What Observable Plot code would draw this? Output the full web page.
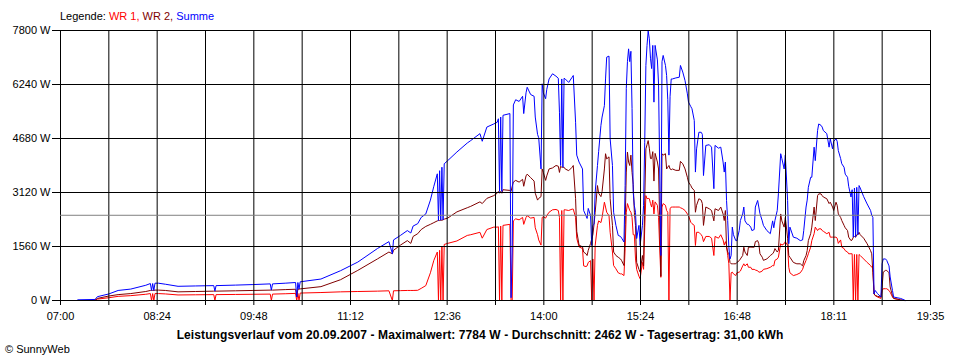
<!DOCTYPE html>
<html>
<head>
<meta charset="utf-8">
<script src="https://cdn.jsdelivr.net/npm/d3@7"></script>
<script src="https://cdn.jsdelivr.net/npm/@observablehq/plot@0.6"></script>
<style>
  body { margin: 0; background: #fff; font-family: "Liberation Sans", Arial, sans-serif; }
  #wrap { position: relative; width: 960px; height: 360px; overflow: hidden; }
  #chart { position: absolute; left: 0; top: 0; }
  .t { position: absolute; font-size: 11px; line-height: 11px; white-space: nowrap; color: #000; }
</style>
</head>
<body>
<div id="wrap">
  <div id="chart"></div>
  <div id="legend" class="t" style="left:60px; top:11px;"></div>
  <div id="caption" class="t" style="left:0; width:960px; text-align:center; top:329px; font-size:12px; line-height:12px; letter-spacing:0.1px; font-weight:bold;"></div>
  <div id="credit" class="t" style="left:5px; top:344px;"></div>
</div>
<script>
// ---------------- data ----------------
const seriesNames = ["WR 1", "WR 2", "Summe"];
const xTickLabels = ["07:00", "08:24", "09:48", "11:12", "12:36", "14:00", "15:24", "16:48", "18:11", "19:35"];
const yTicks = [0, 1560, 3120, 4680, 6240, 7800];
const reportDate = "20.09.2007";
const maxValue = 7784;
const averageValue = 2462;
const dailyYield = "31,00";
const creditText = "© SunnyWeb";

const times = [
"07:15","07:30","07:32","07:42","07:50","08:01","08:14","08:18","08:19","08:20","08:21","08:22","08:25","08:31","08:42","08:57",
"09:13","09:14","09:15","09:32","09:47","10:02","10:03","10:04","10:15","10:24","10:25","10:26","10:27","10:28","10:46",
"11:03","11:18","11:35","11:45","11:48","11:49","11:55","12:01","12:04","12:06","12:10","12:13","12:17","12:21","12:24","12:27",
"12:28","12:29","12:30","12:31","12:32","12:33","12:36","12:44","12:53","12:56","13:04","13:06","13:10","13:16","13:19","13:20",
"13:21","13:22","13:23","13:24","13:30","13:31","13:32","13:33","13:35","13:38","13:41","13:42","13:44","13:45","13:48","13:51",
"13:52","13:54","13:55","13:57","13:58","13:59","14:01","14:02","14:04","14:07","14:10","14:12","14:13","14:14","14:15","14:16",
"14:17","14:18","14:21","14:24","14:25","14:27","14:28","14:30","14:33","14:34","14:36","14:37","14:38","14:40","14:41","14:42",
"14:43","14:44","14:46","14:47","14:49","14:50","14:52","14:53","14:54","14:56","14:57","14:59","15:00","15:02","15:04","15:06",
"15:07","15:09","15:10","15:11","15:12","15:13","15:14","15:15","15:16","15:17","15:18","15:19","15:20","15:22","15:23","15:25",
"15:26","15:27","15:28","15:29","15:30","15:31","15:32","15:33","15:34","15:35","15:36","15:38","15:39","15:41","15:42","15:43",
"15:45","15:46","15:47","15:48","15:49","15:50","15:51","15:54","15:57","15:58","16:00","16:02","16:04","16:05","16:07","16:08",
"16:10","16:11","16:12","16:14","16:16","16:17","16:18","16:20","16:23","16:25","16:27","16:28","16:31","16:33","16:35","16:36",
"16:37","16:38","16:39","16:40","16:41","16:42","16:43","16:44","16:46","16:47","16:49","16:50","16:52","16:53","16:54","16:56",
"16:57","16:59","17:00","17:02","17:03","17:05","17:06","17:07","17:09","17:10","17:13","17:16","17:18","17:19","17:20","17:22",
"17:23","17:25","17:26","17:28","17:29","17:31","17:32","17:33","17:36","17:39","17:42","17:44","17:45","17:47","17:48","17:49",
"17:51","17:52","17:54","17:55","17:57","17:58","18:00","18:01","18:02","18:05","18:07","18:08","18:10","18:11","18:13","18:14",
"18:15","18:17","18:18","18:20","18:21","18:23","18:24","18:26","18:27","18:28","18:29","18:30","18:31","18:32","18:33","18:34",
"18:37","18:40","18:43","18:44","18:45","18:46","18:47","18:49","18:52","18:53","18:54","18:56","18:57","18:59","19:00","19:02",
"19:03","19:06","19:09","19:12","19:13"
];

// WR 1 (W)
const wr1 = [
null,10,40,80,120,140,180,200,0,200,0,200,200,190,160,165,
170,0,170,175,180,185,0,185,195,205,0,205,0,215,230,
250,260,270,280,0,280,285,290,290,290,295,350,430,800,1160,1400,
0,1450,0,1550,0,1620,1650,1720,1880,1900,1970,1800,2050,2120,2120,2130,
0,2150,0,2170,2200,0,0,2300,2360,2330,2400,2200,2400,2450,2380,2400,
2100,1900,1750,1600,2400,2420,2380,2450,2550,2620,2630,2600,2400,0,2600,0,
2620,2620,2600,2640,2640,2400,1800,1550,1500,1000,980,1000,1100,1150,0,1200,
0,1590,2170,2300,2250,2400,2840,2700,2550,2450,1970,1400,1010,915,800,770,
770,720,1500,2550,2800,2700,2600,2550,2400,1900,1900,1200,900,700,630,1100,
900,2100,3030,2940,2950,2940,2800,2700,2900,2500,2850,2750,2400,670,2700,2800,
2750,2600,2550,0,2650,2700,2700,2700,2700,2680,2650,2600,2500,2450,2260,2220,
2170,1590,1970,1970,1900,1850,1700,1850,1850,1800,1300,1850,1800,1900,1750,1600,
1700,1600,1300,1060,0,800,820,770,720,800,820,850,1000,1060,1000,1060,
960,960,900,900,880,860,820,820,850,900,920,960,1010,1000,1160,1200,
1250,1640,1600,1640,1700,1590,960,800,720,750,800,900,1000,1160,1250,1350,
1540,1730,1930,2120,2020,2070,2070,2020,2000,1930,1970,1830,1830,1830,1830,1800,
1650,1750,1540,1500,1440,1400,1350,1350,1350,0,1330,0,1330,0,1330,1300,
1200,1100,1010,960,950,190,140,100,60,290,340,340,340,290,240,100,
60,40,10,0,null
];

// WR 2 (W)
const wr2 = [
null,10,60,130,170,200,260,290,290,290,290,300,300,290,250,260,
270,270,270,280,290,300,300,300,315,325,100,325,330,335,400,
600,870,1200,1400,1350,1450,1600,1730,1650,1850,1930,2050,2140,2200,2250,2300,
2310,2310,2320,2320,2330,2350,2380,2560,2680,2720,2850,2800,2950,3030,3100,3150,
3100,3150,3100,3200,3180,3150,3300,3420,3470,3420,3500,3300,3600,3650,3550,3450,
3100,2900,2950,3000,3800,3700,3470,3600,3800,3830,3900,3880,3700,3880,3850,3850,
3850,3800,3750,3850,3900,2940,2000,1600,1550,1400,1350,1300,1450,1650,1780,1900,
2200,2550,3320,3100,3000,3150,3800,4240,4090,4150,2940,2170,1400,1300,1250,1200,
1150,1010,2200,3710,4290,4000,3900,4200,3700,3350,2550,2170,1100,900,820,1300,
1000,2900,4380,4500,4620,4400,4100,4100,4300,3450,4250,4000,3800,700,4240,4200,
4240,3800,3850,3900,3800,3780,3800,3760,3760,4020,3950,3800,3560,3420,3320,3250,
3180,2550,2750,2940,2900,2800,2170,2700,2650,2600,2300,2650,2600,2700,2500,2310,
2600,1540,1400,1350,1100,1060,1060,1060,1060,1100,1150,1200,1300,1540,1400,1300,
1540,1540,1540,1540,1700,1730,1640,1350,1250,1160,1200,1300,1350,1400,1500,1400,
1450,2500,2300,2120,2400,1800,1300,1250,1100,1060,1060,1000,1150,1300,1440,1730,
1930,2120,2700,2310,3030,3080,3080,3030,2990,2940,2800,2840,2700,2600,2840,2750,
2500,2400,2310,2170,2100,2020,1830,1730,1750,1830,1850,1830,1900,1900,1970,1900,
1800,1640,1440,1350,800,190,150,120,100,390,820,870,870,800,390,140,
60,40,20,0,null
];

// Summe (W)
const summe = [
20,30,110,190,290,330,440,490,290,490,290,500,500,470,410,420,
430,270,430,445,460,480,300,480,500,520,100,520,330,540,620,
860,1110,1500,1700,1350,1750,1880,2020,1950,2150,2220,2400,2500,2900,3300,3660,
2310,3750,2320,3850,2330,3950,4040,4290,4550,4620,4820,4600,5010,5100,5150,5250,
3150,5300,3150,5350,5400,80,1400,5650,5800,5750,5900,5400,6000,6160,5950,5900,
5300,4800,4700,3800,6260,6000,5830,6100,6400,6550,6480,6420,5440,3900,6400,3850,
6420,6400,6300,6450,6500,5150,4200,4000,3800,2600,2450,2370,2660,2450,1590,2170,
2200,3130,3900,4300,5060,5300,5630,6400,7030,7060,4670,3900,2550,2170,1880,1850,
1800,1690,3320,6130,6900,7270,6900,7200,5550,3130,2740,2550,1790,2170,1590,2170,
2740,4570,6790,7370,7784,7560,7000,6700,7370,5730,7370,6950,6250,1300,6900,7080,
6790,6500,5800,4200,5900,6400,6400,6430,6450,6790,6600,6350,5970,5730,5600,5540,
5200,3710,4380,4860,4860,4800,3610,4480,4500,4430,3230,4480,4400,4430,4000,3710,
4000,2890,2310,1540,1200,1300,2120,1900,1730,1730,2020,2310,2500,2700,2300,2200,
2200,2120,2020,2050,2700,2890,2700,2510,2300,2170,2020,1930,2300,2100,2310,2600,
3080,4240,4100,3800,4200,2890,1640,2120,1830,1800,1730,1750,2020,2700,2900,3270,
3560,3560,4430,4040,4910,5100,5060,5010,4910,4820,4430,4670,4380,4600,4670,4600,
4330,4100,3950,3850,3650,3560,3300,2990,3200,1830,3250,1830,3270,1900,3320,3250,
3000,2790,2600,2460,2400,190,290,200,100,1060,1200,1200,1160,1000,680,290,
100,80,60,20,0
];

// ---------------- build ----------------
const seriesColors = ["#ff0000", "#800000", "#0000ff"];
const toMin = s => { const [h, m] = s.split(":").map(Number); return h * 60 + m; };
const rows = times.map((t, i) => ({ t: toMin(t), wr1: wr1[i], wr2: wr2[i], summe: summe[i] }));

const xStart = toMin(xTickLabels[0]);
const xEnd = toMin(xTickLabels[xTickLabels.length - 1]);
const nGrid = (xTickLabels.length - 1) * 2;
const step = (xEnd - xStart) / nGrid;
const gridX = d3.range(nGrid + 1).map(k => xStart + k * step);

const fmtX = d => {
  const k = Math.round((d - xStart) / step);
  return k % 2 === 0 ? xTickLabels[k / 2] : "";
};

const FONT = "'Liberation Sans', Arial, sans-serif";

const chart = Plot.plot({
  width: 960,
  height: 360,
  marginLeft: 60,
  marginRight: 30,
  marginTop: 30,
  marginBottom: 60,
  x: { domain: [xStart, xEnd] },
  y: { domain: [yTicks[0], yTicks[yTicks.length - 1]] },
  style: { fontFamily: FONT, fontSize: "11px", color: "#000", background: "transparent" },
  marks: [
    Plot.line(rows, { x: "t", y: "wr1", stroke: seriesColors[0], strokeWidth: 1 }),
    Plot.line(rows, { x: "t", y: "wr2", stroke: seriesColors[1], strokeWidth: 1 }),
    Plot.line(rows, { x: "t", y: "summe", stroke: seriesColors[2], strokeWidth: 1 }),
    Plot.ruleX(gridX, { stroke: "#000", strokeWidth: 1 }),
    Plot.ruleY(yTicks, { stroke: "#000", strokeWidth: 1 }),
    Plot.ruleY([averageValue], { stroke: "#808080", strokeWidth: 1 }),
    Plot.axisX({ ticks: gridX, tickFormat: fmtX, tickSize: 5, tickPadding: 7, label: null, stroke: "#000", fontSize: 11, fill: "#000" }),
    Plot.axisY({ ticks: yTicks, tickFormat: d => `${d} W`, tickSize: 8, tickPadding: 2, label: null, stroke: "#000", fontSize: 11, fill: "#000" })
  ]
});
document.getElementById("chart").appendChild(chart);

// legend
const legend = document.getElementById("legend");
legend.appendChild(document.createTextNode("Legende: "));
seriesNames.forEach((name, i) => {
  const s = document.createElement("span");
  s.style.color = seriesColors[i];
  s.textContent = name + (i < seriesNames.length - 1 ? ", " : "");
  legend.appendChild(s);
});

document.getElementById("caption").textContent =
  `Leistungsverlauf vom ${reportDate} - Maximalwert: ${maxValue} W - Durchschnitt: ${averageValue} W - Tagesertrag: ${dailyYield} kWh`;
document.getElementById("credit").textContent = creditText;
</script>
</body>
</html>
